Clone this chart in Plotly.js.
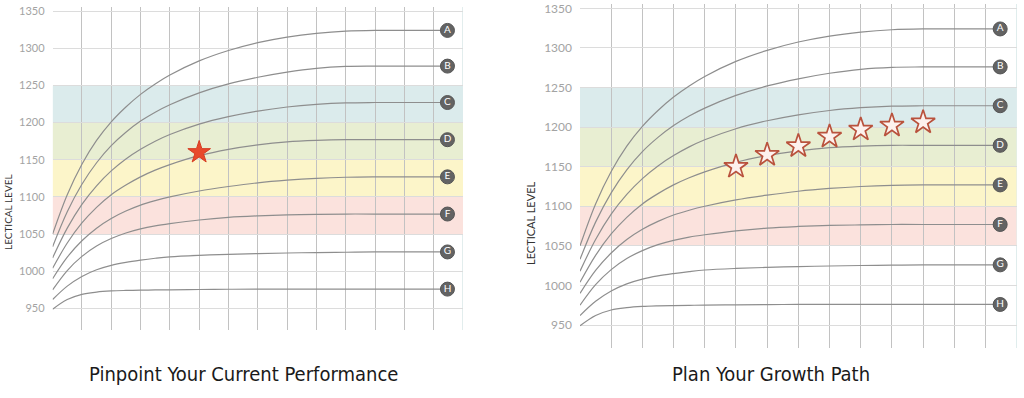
<!DOCTYPE html>
<html>
<head>
<meta charset="utf-8">
<script src="https://cdn.plot.ly/plotly-3.0.1.min.js"></script>
<style>html,body{margin:0;padding:0;background:#fff;}#chart{width:1024px;height:398px;}</style>
</head>
<body>
<div id="chart"></div>
<script>
// ---- data ----
const xs = [0, 0.5, 1, 1.5, 2, 2.5, 3, 3.5, 4, 5, 6, 7, 8, 9, 10, 11, 13.47];
const curveNames = ["A", "B", "C", "D", "E", "F", "G", "H"];
const curveA = [1050, 1103, 1144, 1176, 1201, 1221, 1238, 1252, 1264, 1283, 1297, 1307.5, 1315, 1320, 1323, 1324, 1324];
const curveB = [1033, 1080, 1117, 1146, 1169, 1187, 1202, 1214, 1224, 1240, 1252, 1261, 1268, 1273, 1275.5, 1276, 1276];
const curveC = [1018, 1058, 1090, 1115, 1135, 1151, 1164, 1175, 1184, 1198, 1208, 1215.5, 1221, 1224.5, 1226.5, 1227, 1227];
const curveD = [1004, 1038, 1065, 1086, 1103, 1116, 1127, 1136, 1143.5, 1155.5, 1164, 1170, 1174, 1176, 1177, 1177, 1177];
const curveE = [990, 1019, 1041, 1058, 1071, 1081, 1089, 1095, 1100, 1108, 1114, 1119, 1122.5, 1125, 1126.5, 1127, 1127];
const curveF = [975, 1001, 1020, 1034, 1044, 1051.5, 1057, 1061, 1064, 1069, 1072.5, 1074.5, 1075.8, 1076.5, 1077, 1077, 1077];
const curveG = [962, 980, 993, 1002, 1008, 1012, 1015, 1017.5, 1019.5, 1021.5, 1022.8, 1023.8, 1024.6, 1025.2, 1025.6, 1026, 1026];
const curveH = [949, 962, 969, 972, 973.5, 974.2, 974.6, 974.9, 975.1, 975.5, 975.8, 976, 976, 976, 976, 976, 976];
const curves = [curveA, curveB, curveC, curveD, curveE, curveF, curveG, curveH];

const bandLow  = [1050, 1100, 1150, 1200];
const bandHigh = [1100, 1150, 1200, 1250];
const bandColors = ["#fbe2dd", "#fcf5c9", "#e8eed2", "#dbebec"];

const yTicks = [950, 1000, 1050, 1100, 1150, 1200, 1250, 1300, 1350];
const xGrid = [1, 2, 3, 4, 5, 6, 7, 8, 9, 10, 11, 12, 13];
const xEdge = 14;

const currentX = [5];
const currentY = [1160];
const pathX = [5, 6, 7, 8, 9, 10, 11];
const pathY = [1150, 1165, 1176, 1188, 1197, 1202, 1206];

const titles = ["Pinpoint Your Current Performance", "Plan Your Growth Path"];
const yTitle = "LECTICAL LEVEL";

// ---- build ----
const W = 1024, H = 398;
const panels = [
  {xa: "x", ya: "y", xl: 52.6, xr: 463, yt: 7, yb: 330, tick: 11, titleX: 8, titleY: 212, tfs: 10},
  {xa: "x2", ya: "y2", xl: 580, xr: 1016.7, yt: 4, yb: 348, tick: 12, titleX: 530, titleY: 224, tfs: 11}
];
const yRange = [921, 1355.5];

const traces = [];
const shapes = [];
const annotations = [];
const layout = {
  width: W, height: H,
  margin: {l: 0, r: 0, t: 0, b: 0},
  paper_bgcolor: "#ffffff",
  plot_bgcolor: "rgba(0,0,0,0)",
  showlegend: false,
  font: {family: "Lato, sans-serif"}
};

panels.forEach((p, pi) => {
  const xk = pi === 0 ? "xaxis" : "xaxis2";
  const yk = pi === 0 ? "yaxis" : "yaxis2";
  layout[xk] = {
    domain: [p.xl / W, p.xr / W], range: [0, xEdge], anchor: p.ya,
    tickmode: "array", tickvals: xGrid, showticklabels: false, ticks: "",
    showgrid: true, gridcolor: "#c2c2c2", gridwidth: 1,
    zeroline: false, showline: false, fixedrange: true
  };
  layout[yk] = {
    domain: [1 - p.yb / H, 1 - p.yt / H], range: yRange, anchor: p.xa,
    tickmode: "array", tickvals: yTicks, ticktext: yTicks.map(String), ticks: "",
    tickfont: {family: "Lato, sans-serif", size: p.tick, color: "#a3a3a3"},
    ticklabelstandoff: 7,
    showgrid: true, gridcolor: "#dcdcdc", gridwidth: 1,
    zeroline: false, showline: false, fixedrange: true
  };
  bandLow.forEach((lo, i) => {
    shapes.push({type: "rect", xref: p.xa, yref: p.ya, x0: 0, x1: xEdge, y0: lo, y1: bandHigh[i],
      fillcolor: bandColors[i], line: {width: 0}, layer: "below"});
  });
  shapes.push({type: "line", xref: p.xa, yref: "paper", x0: xEdge, x1: xEdge,
    y0: 1 - p.yb / H, y1: 1 - p.yt / H, line: {color: "#cfe2e2", width: 1.2}, layer: "below"});
  curves.forEach((c) => {
    traces.push({type: "scatter", mode: "lines", x: xs, y: c, xaxis: p.xa, yaxis: p.ya,
      line: {color: "#8e8e8e", width: 1.2, shape: "spline", smoothing: 1}, hoverinfo: "skip"});
  });
  traces.push({type: "scatter", mode: "markers+text",
    x: curves.map(() => xs[xs.length - 1]), y: curves.map(c => c[c.length - 1]),
    text: curveNames, textposition: "middle center",
    textfont: {family: "Lato, sans-serif", size: 10, color: "#ffffff"},
    marker: {size: 14, color: "#636363", line: {color: "#555555", width: 1}},
    xaxis: p.xa, yaxis: p.ya, hoverinfo: "skip", cliponaxis: false});
  annotations.push({xref: "paper", yref: "paper", x: ((p.xl + p.xr) / 2 - (pi === 0 ? 14 : 27)) / W, y: 1 - 374 / H,
    text: titles[pi], showarrow: false, xanchor: "center", yanchor: "middle",
    font: {family: "DejaVu Sans Condensed, sans-serif", size: 20, color: "#1a1a1a"}});
  annotations.push({xref: "paper", yref: "paper", x: p.titleX / W, y: 1 - p.titleY / H,
    text: yTitle, showarrow: false, textangle: -90, xanchor: "center", yanchor: "middle",
    font: {family: "Lato, sans-serif", size: p.tfs, color: "#333333"}});
});

traces.push({type: "scatter", mode: "markers", x: currentX, y: currentY, xaxis: "x", yaxis: "y",
  marker: {symbol: "star", size: 17, color: "#e8492c", line: {color: "#d63c22", width: 1}}, hoverinfo: "skip"});
traces.push({type: "scatter", mode: "markers", x: pathX, y: pathY, xaxis: "x2", yaxis: "y2",
  marker: {symbol: "star", size: 18, color: "#fdf1ee", line: {color: "#b9523d", width: 1.7}}, hoverinfo: "skip"});

layout.shapes = shapes;
layout.annotations = annotations;
Plotly.newPlot("chart", traces, layout, {displayModeBar: false, staticPlot: true});
</script>
</body>
</html>
